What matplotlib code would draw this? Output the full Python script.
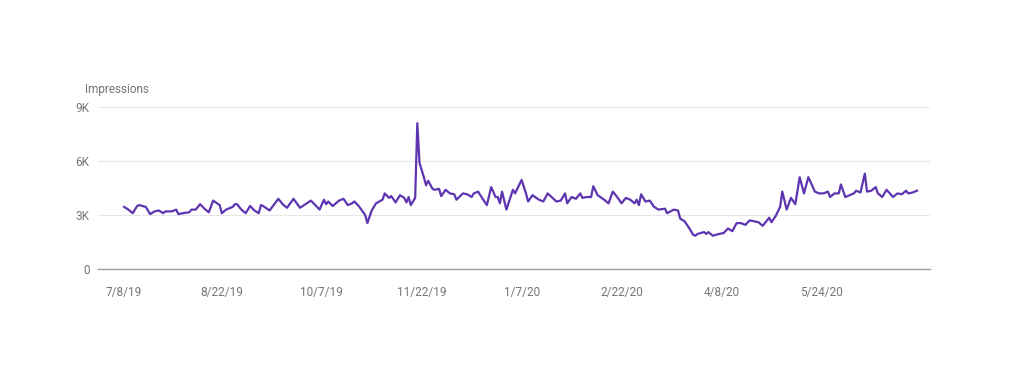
import pandas as pd
import matplotlib
matplotlib.use("Agg")
import matplotlib.pyplot as plt

START = "2019-07-08"

# days after START
day_offsets = [
    0, 2, 4, 6, 7, 10, 12, 14, 16, 18, 19, 22, 24, 25, 27, 30, 31, 33, 35, 37,
    39, 41, 44, 45, 47, 50, 51, 52, 54, 56, 58, 60, 62, 63, 64, 67, 71, 73, 75, 78,
    81, 86, 88, 90, 92, 93, 94, 96, 99, 101, 103, 105, 106, 108, 111, 112, 114, 116, 119, 120,
    122, 123, 125, 127, 129, 130, 131, 132, 134, 135, 136, 138, 139, 140, 142, 143, 145, 146, 148, 150,
    152, 153, 156, 158, 160, 161, 163, 164, 167, 169, 171, 172, 173, 174, 176, 179, 180, 183, 185, 186,
    188, 191, 193, 195, 199, 201, 203, 204, 206, 208, 210, 211, 213, 215, 216, 218, 221, 223, 225, 227,
    229, 231, 233, 235, 236, 237, 238, 240, 242, 244, 246, 249, 250, 253, 255, 256, 258, 260, 262, 263,
    264, 267, 268, 269, 271, 274, 276, 278, 280, 282, 284, 286, 288, 290, 292, 294, 296, 297, 298, 300,
    302, 303, 305, 307, 309, 311, 313, 315, 318, 320, 322, 324, 325, 327, 329, 330, 332, 334, 336, 337,
    339, 341, 342, 344, 346, 347, 349, 351, 354, 356, 358, 360, 361, 363, 365,
]
impressions = [
    3450, 3300, 3100, 3500, 3550, 3450, 3050, 3200, 3250, 3100, 3200, 3200, 3300, 3050, 3100, 3150, 3300, 3300, 3600, 3350,
    3150, 3800, 3550, 3100, 3300, 3450, 3600, 3600, 3300, 3100, 3500, 3250, 3100, 3550, 3500, 3250, 3900, 3600, 3400, 3900,
    3400, 3800, 3550, 3300, 3850, 3600, 3750, 3500, 3800, 3900, 3550, 3650, 3750, 3500, 3000, 2550, 3250, 3650, 3850, 4200,
    3950, 4050, 3700, 4100, 3950, 3700, 4000, 3550, 3950, 8100, 5900, 5100, 4650, 4900, 4450, 4400, 4450, 4050, 4400, 4200,
    4150, 3850, 4200, 4150, 4000, 4200, 4300, 4100, 3550, 4550, 4000, 4000, 3650, 4300, 3300, 4400, 4200, 4950, 4200, 3750,
    4100, 3850, 3750, 4200, 3750, 3800, 4200, 3650, 4000, 3900, 4200, 3950, 4000, 4000, 4600, 4100, 3850, 3650, 4300, 4000,
    3650, 3950, 3850, 3650, 3850, 3550, 4150, 3750, 3800, 3450, 3300, 3350, 3100, 3300, 3250, 2800, 2650, 2300, 1900, 1850,
    1950, 2050, 1950, 2050, 1850, 1950, 2000, 2250, 2100, 2550, 2550, 2450, 2700, 2650, 2600, 2400, 2700, 2850, 2600, 2950,
    3450, 4300, 3300, 3950, 3600, 5100, 4200, 5100, 4300, 4200, 4200, 4300, 4000, 4200, 4200, 4700, 4000, 4100, 4200, 4350,
    4250, 5300, 4300, 4350, 4550, 4200, 4000, 4400, 4000, 4200, 4150, 4350, 4200, 4250, 4350,
]

tick_labels = ["7/8/19", "8/22/19", "10/7/19", "11/22/19", "1/7/20", "2/22/20", "4/8/20", "5/24/20"]
y_ticks = [0, 3000, 6000, 9000]
y_labels = ["0", "3K", "6K", "9K"]

start = pd.Timestamp(START)
dates = start + pd.to_timedelta(day_offsets, unit="D")
tick_dates = pd.to_datetime(tick_labels, format="%m/%d/%y")

plt.rcParams["font.family"] = ["Roboto", "DejaVu Sans"]
fig = plt.figure(figsize=(10.24, 3.76), dpi=100)
ax = fig.add_axes([98 / 1024, 1 - 269 / 376, 832 / 1024, 162 / 376])

ax.plot(dates, impressions, color="#5e35b1", linewidth=1.6, solid_joinstyle="round")

ax.set_xlim(start - pd.Timedelta(days=12), start + pd.Timedelta(days=371))
ax.set_ylim(0, 9000)
ax.set_yticks(y_ticks)
ax.set_yticklabels(y_labels)
ax.set_xticks(tick_dates)
ax.set_xticklabels(tick_labels)

ax.grid(axis="y", color="#e6e6e6", linewidth=0.8)
ax.set_axisbelow(True)
for side in ["top", "right", "left"]:
    ax.spines[side].set_visible(False)
ax.spines["bottom"].set_color("#9e9e9e")
ax.spines["bottom"].set_linewidth(1.0)
ax.tick_params(axis="both", length=0, colors="#757575", labelsize=8.5)
ax.tick_params(axis="x", pad=12)
ax.tick_params(axis="y", pad=6)

fig.text(85 / 1024, 1 - 90 / 376, "Impressions", fontsize=8.5, color="#757575",
         ha="left", va="center")

fig.savefig("out.png", dpi=100, facecolor="white")
